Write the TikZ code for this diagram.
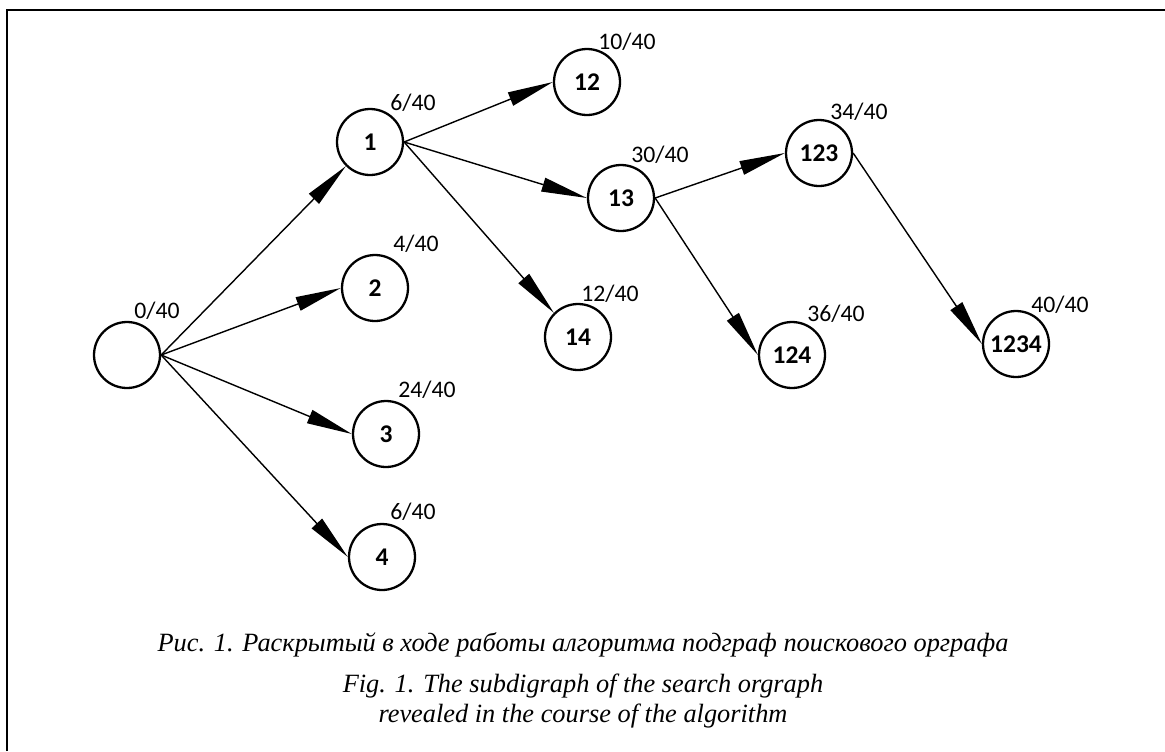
\documentclass[tikz,border=0pt]{standalone}
\usepackage{fontspec}
\setmainfont{Liberation Serif}
\newfontfamily\calfont{Carlito}
\usetikzlibrary{arrows.meta}

\tikzset{
  vertex/.style={draw,circle,line width=1.3pt,minimum size=1.32cm,inner sep=0pt,
    font=\calfont\bfseries\fontsize{14.5}{16}\selectfont},
  weight/.style={font=\calfont\fontsize{13.5}{15}\selectfont,inner sep=0pt},
  edge/.style={line width=0.8pt,-{Triangle[length=26pt,width=8pt]}},
  caption/.style={font=\itshape\fontsize{15}{17}\selectfont,align=center,inner sep=0pt}
}

\begin{document}
\begin{tikzpicture}[x=0.02cm,y=-0.02cm]
      \useasboundingbox (0,0) rectangle (1165,751);
      \draw[line width=1.1pt] (7,751) -- (7,10) -- (1165,10);
      % vertices
      \node[vertex] (r) at (127,355) {};
      \node[vertex] (n1) at (370,142) {1};
      \node[vertex] (n2) at (375,288) {2};
      \node[vertex] (n3) at (386,434) {3};
      \node[vertex] (n4) at (382,557) {4};
      \node[vertex] (n12) at (587,82) {12};
      \node[vertex] (n13) at (621,198) {13};
      \node[vertex] (n14) at (578,337) {14};
      \node[vertex] (n123) at (819,153) {123};
      \node[vertex] (n124) at (792,355) {124};
      \node[vertex] (n1234) at (1016,344) {1234};
      % weights
      \node[weight] (wr) at (157,311) {0/40};
      \node[weight] (w1) at (413,103) {6/40};
      \node[weight] (w2) at (416,244) {4/40};
      \node[weight] (w3) at (427,390) {24/40};
      \node[weight] (w4) at (413,512) {6/40};
      \node[weight] (w12) at (627,42) {10/40};
      \node[weight] (w13) at (660,155) {30/40};
      \node[weight] (w14) at (610,294) {12/40};
      \node[weight] (w123) at (859,112) {34/40};
      \node[weight] (w124) at (836,314) {36/40};
      \node[weight] (w1234) at (1060,305) {40/40};
      % edges
      \draw[edge] (r.east) -- (n1.south west);
      \draw[edge] (r.east) -- (n2.west);
      \draw[edge] (r.east) -- (n3.west);
      \draw[edge] (r.east) -- (n4.west);
      \draw[edge] (n1.east) -- (n12.west);
      \draw[edge] (n1.east) -- (n13.west);
      \draw[edge] (n1.east) -- (n14.north west);
      \draw[edge] (n13.east) -- (n123.west);
      \draw[edge] (n13.east) -- (n124.west);
      \draw[edge] (n123.east) -- (n1234.west);
      % caption
      \node[caption] (cru) at (583,645) {Рис. 1. Раскрытый в ходе работы алгоритма подграф поискового орграфа};
      \node[caption] (cen) at (583,701) {Fig. 1. The subdigraph of the search orgraph\\revealed in the course of the algorithm};
\end{tikzpicture}
\end{document}
